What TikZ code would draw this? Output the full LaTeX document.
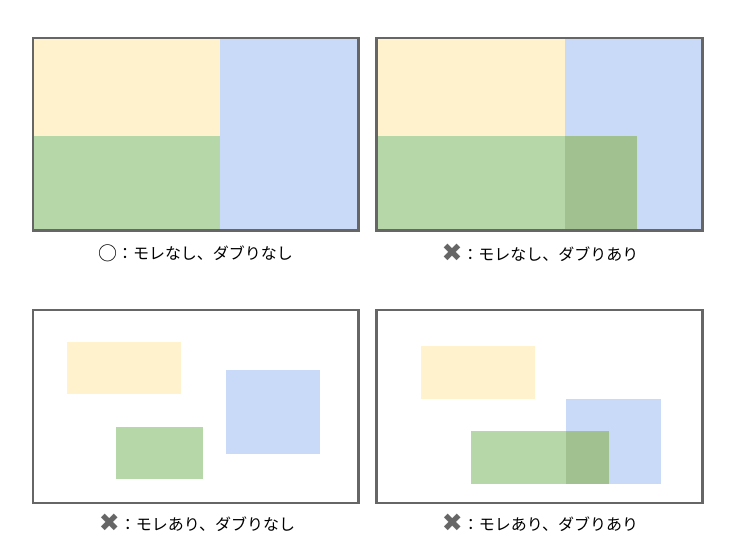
\documentclass[tikz,border=0pt]{standalone}
\usepackage{fontspec}
\newfontfamily\jpfont{Noto Sans CJK JP}
\newfontfamily\symfont{DejaVu Sans}
\definecolor{framegray}{HTML}{666666}
\definecolor{yelfill}{HTML}{FFF2CC}
\definecolor{blufill}{HTML}{C9DAF8}
\definecolor{grnfill}{HTML}{B6D7A8}
\definecolor{ovlfill}{HTML}{A2C191}
\tikzset{
  frame/.style={draw=framegray, line width=2.8pt},
  yel/.style={fill=yelfill},
  blu/.style={fill=blufill},
  grn/.style={fill=grnfill},
  ovl/.style={fill=ovlfill},
  caption/.style={font=\jpfont\fontsize{16pt}{18pt}\selectfont, inner sep=0pt}
}
\newcommand{\ngmark}{{\symfont\fontsize{25pt}{25pt}\selectfont\color{framegray}\raisebox{-1.5pt}{✖}}}
\newcommand{\okmark}{{\fontsize{19pt}{19pt}\selectfont\raisebox{-1pt}{○}}}
\begin{document}
\begin{tikzpicture}[x=1pt, y=-1pt]
  \useasboundingbox (0,0) rectangle (740,555);
  % top left
  \fill[yel] (33,38) rectangle (220,135.5);
  \fill[grn] (33,135.5) rectangle (220,230.5);
  \fill[blu] (220,38) rectangle (358.5,230.5);
  \draw[frame] (33,38) rectangle (358.5,230.5);
  \node[caption] (okok) at (195.5,253) {\okmark：モレなし、ダブりなし};
  % top right
  \fill[yel] (376.5,38) rectangle (565,135.5);
  \fill[blu] (565,38) rectangle (702.5,230.5);
  \fill[grn] (376.5,135.5) rectangle (565,230.5);
  \fill[ovl] (565,135.5) rectangle (637,230.5);
  \draw[frame] (376.5,38) rectangle (702.5,230.5);
  \node[caption] (okng) at (540,253) {\ngmark：モレなし、ダブりあり};
  % bottom left
  \fill[yel] (66.5,342) rectangle (180.5,394);
  \fill[blu] (225.5,369.5) rectangle (320,454);
  \fill[grn] (116,427) rectangle (203,479);
  \draw[frame] (33,310) rectangle (358.5,503);
  \node[caption] (ngok) at (197,523) {\ngmark：モレあり、ダブりなし};
  % bottom right
  \fill[yel] (421,346) rectangle (535,399);
  \fill[blu] (566,399) rectangle (661,484);
  \fill[grn] (471,431) rectangle (566,484);
  \fill[ovl] (566,431) rectangle (609,484);
  \draw[frame] (376.5,310) rectangle (702.5,503);
  \node[caption] (ngng) at (540,523) {\ngmark：モレあり、ダブりあり};
\end{tikzpicture}
\end{document}
